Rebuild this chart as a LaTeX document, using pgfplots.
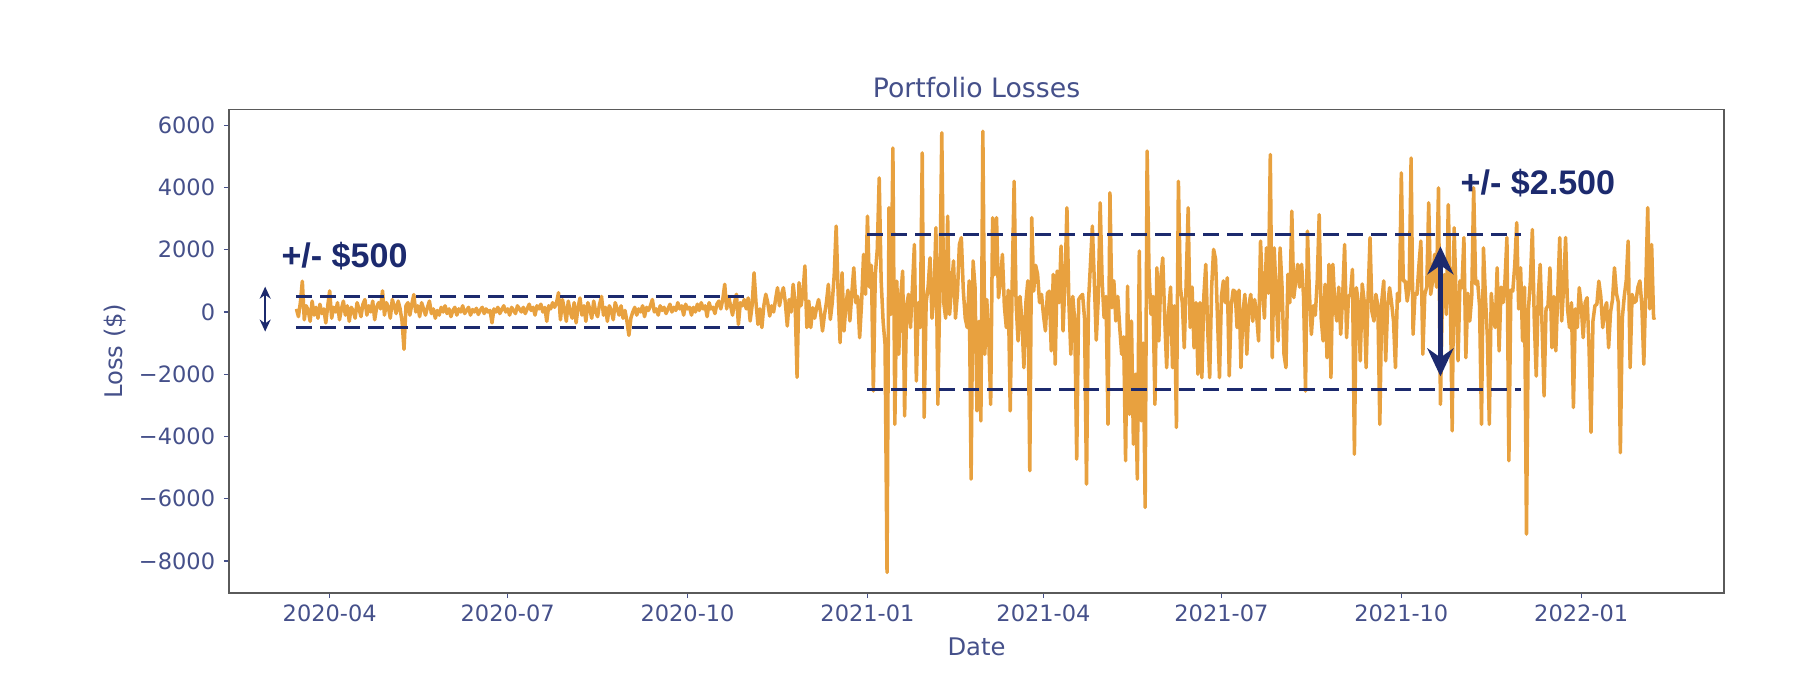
\documentclass[border=0pt]{standalone}
\usepackage{pgfplots}
\pgfplotsset{compat=1.18}
\usepackage{fontspec}
\setmainfont{DejaVu Sans}
\newfontfamily\annfont{Liberation Sans}
\usetikzlibrary{arrows.meta}
\definecolor{lossorange}{HTML}{E8A13F}
\definecolor{navyann}{HTML}{1C2A6E}
\definecolor{txtblue}{HTML}{45508A}
\definecolor{framegray}{HTML}{5A5A5A}
\begin{document}
\begin{tikzpicture}
\useasboundingbox (-22.9mm,-8.1mm) rectangle (157.7mm,59.3mm);
\begin{axis}[
  at={(0,0)}, anchor=south west,
  width=149.5mm, height=48.36mm, scale only axis,
  xmin=39.5, xmax=804, ymin=-9030, ymax=6510,
  axis line style={framegray, line width=0.5pt},
  xtick={91,182,274,366,456,547,639,731},
  xticklabels={2020-04,2020-07,2020-10,2021-01,2021-04,2021-07,2021-10,2022-01},
  ytick={-8000,-6000,-4000,-2000,0,2000,4000,6000},
  yticklabels={−8000,−6000,−4000,−2000,0,2000,4000,6000},
  tick align=outside, major tick length=0.5mm,
  tick style={txtblue, line width=0.4pt},
  xtick pos=bottom, ytick pos=left,
  ticklabel style={font=\fontsize{6.4}{7}\selectfont, text=txtblue},
  xticklabel style={yshift=0.55mm},
  yticklabel style={xshift=0.35mm},
  every axis title shift=0pt,
  title={Portfolio Losses},
  title style={font=\fontsize{7.6}{8}\selectfont, text=txtblue, at={(axis description cs:0.5,1)}, anchor=center, yshift=2.2mm},
  xlabel={Date},
  xlabel style={font=\fontsize{6.9}{8}\selectfont, text=txtblue, at={(axis description cs:0.5,0)}, anchor=center, yshift=-5.4mm},
  ylabel={Loss (\$)},
  ylabel style={font=\fontsize{6.9}{8}\selectfont, text=txtblue, at={(axis description cs:0,0.5)}, anchor=center, yshift=11.4mm},
  clip=false,
]
\addplot[lossorange, line width=1pt, line join=round] table[row sep=\\] {
x y\\
74 100\\ 75 -150\\ 76 300\\ 77 990\\ 78 -250\\ 79 200\\ 80 50\\ 81 -300\\ 82 350\\ 83 -100\\
84 150\\ 85 -200\\ 86 250\\ 87 -50\\ 88 100\\ 89 -350\\ 90 200\\ 91 680\\ 92 -200\\ 93 150\\
94 0\\ 95 300\\ 96 -250\\ 97 100\\ 98 350\\ 99 -100\\ 100 200\\ 101 -300\\ 102 150\\ 103 50\\
104 -200\\ 105 300\\ 106 100\\ 107 -150\\ 108 250\\ 109 400\\ 110 -100\\ 111 200\\ 112 0\\ 113 350\\
114 -250\\ 115 150\\ 116 300\\ 117 100\\ 118 680\\ 119 -100\\ 120 300\\ 121 150\\ 122 -200\\ 123 400\\
124 200\\ 125 -50\\ 126 350\\ 127 100\\ 128 -300\\ 129 -1200\\ 130 200\\ 131 300\\ 132 -100\\ 133 250\\
134 560\\ 135 0\\ 136 200\\ 137 -150\\ 138 300\\ 139 100\\ 140 -100\\ 141 150\\ 142 350\\ 143 -50\\
144 100\\ 145 -200\\ 146 50\\ 147 -100\\ 148 150\\ 149 0\\ 150 200\\ 151 -50\\ 152 100\\ 153 -150\\
154 50\\ 155 150\\ 156 -100\\ 157 100\\ 158 0\\ 159 200\\ 160 -50\\ 161 50\\ 162 150\\ 163 -100\\
164 80\\ 165 0\\ 166 120\\ 167 -80\\ 168 60\\ 169 150\\ 170 -50\\ 171 100\\ 172 0\\ 173 50\\
174 -350\\ 175 100\\ 176 0\\ 177 150\\ 178 -50\\ 179 80\\ 180 200\\ 181 0\\ 182 100\\ 183 -100\\
184 150\\ 185 50\\ 186 -50\\ 187 200\\ 188 100\\ 189 0\\ 190 150\\ 191 -50\\ 192 100\\ 193 250\\
194 50\\ 195 150\\ 196 -100\\ 197 200\\ 198 100\\ 199 250\\ 200 0\\ 201 150\\ 202 -300\\ 203 200\\
204 100\\ 205 300\\ 206 150\\ 207 300\\ 208 620\\ 209 -250\\ 210 400\\ 211 100\\ 212 -300\\ 213 350\\
214 0\\ 215 -200\\ 216 300\\ 217 -350\\ 218 150\\ 219 450\\ 220 -100\\ 221 200\\ 222 -300\\ 223 300\\
224 100\\ 225 -200\\ 226 350\\ 227 0\\ 228 -150\\ 229 250\\ 230 500\\ 231 -100\\ 232 150\\ 233 -300\\
234 200\\ 235 50\\ 236 -250\\ 237 300\\ 238 100\\ 239 -100\\ 240 200\\ 241 -200\\ 242 50\\ 243 -300\\
244 -750\\ 245 -200\\ 246 0\\ 247 150\\ 248 -100\\ 249 100\\ 250 0\\ 251 200\\ 252 -150\\ 253 150\\
254 50\\ 255 200\\ 256 400\\ 257 0\\ 258 100\\ 259 -100\\ 260 200\\ 261 50\\ 262 150\\ 263 -50\\
264 100\\ 265 250\\ 266 0\\ 267 150\\ 268 50\\ 269 300\\ 270 100\\ 271 200\\ 272 -100\\ 273 250\\
274 100\\ 275 150\\ 276 -100\\ 277 150\\ 278 0\\ 279 250\\ 280 50\\ 281 300\\ 282 100\\ 283 200\\
284 -150\\ 285 300\\ 286 100\\ 287 150\\ 288 -50\\ 289 250\\ 290 350\\ 291 100\\ 292 400\\ 293 890\\
294 100\\ 295 500\\ 296 200\\ 297 -100\\ 298 300\\ 299 570\\ 300 -400\\ 301 300\\ 302 200\\ 303 400\\
304 100\\ 305 450\\ 306 -290\\ 307 200\\ 308 1260\\ 309 300\\ 310 -400\\ 311 100\\ 312 -500\\ 313 200\\
314 570\\ 315 300\\ 316 -130\\ 317 200\\ 318 0\\ 319 400\\ 320 780\\ 321 200\\ 322 550\\ 323 780\\
324 300\\ 325 -450\\ 326 400\\ 327 0\\ 328 890\\ 329 300\\ 330 -2100\\ 331 940\\ 332 200\\ 333 600\\
334 1480\\ 335 -500\\ 336 350\\ 337 -500\\ 338 140\\ 339 -200\\ 340 140\\ 341 400\\ 342 0\\ 343 -610\\
344 -100\\ 345 300\\ 346 890\\ 347 -240\\ 348 300\\ 349 1200\\ 350 2760\\ 351 600\\ 352 -985\\ 353 1260\\
354 -610\\ 355 250\\ 356 700\\ 357 -290\\ 358 600\\ 359 1420\\ 360 300\\ 361 500\\ 362 -825\\ 363 300\\
364 1850\\ 365 570\\ 366 3080\\ 367 800\\ 368 1500\\ 369 -2540\\ 370 1200\\ 371 2000\\ 372 4310\\ 373 1000\\
374 -300\\ 375 -1040\\ 376 -8370\\ 377 3350\\ 378 -80\\ 379 5270\\ 380 -3610\\ 381 990\\ 382 -1360\\ 383 500\\
384 1315\\ 385 -3340\\ 386 200\\ 387 570\\ 388 -500\\ 389 800\\ 390 2170\\ 391 -2220\\ 392 300\\ 393 -500\\
394 5110\\ 395 -3390\\ 396 300\\ 397 800\\ 398 1740\\ 399 -200\\ 400 500\\ 401 2710\\ 402 -2970\\ 403 800\\
404 5760\\ 405 300\\ 406 -200\\ 407 3080\\ 408 -80\\ 409 800\\ 410 1640\\ 411 -200\\ 412 600\\ 413 2170\\
414 2390\\ 415 700\\ 416 -200\\ 417 -500\\ 418 1000\\ 419 -5370\\ 420 1640\\ 421 800\\ 422 -3180\\ 423 -300\\
424 -3500\\ 425 5810\\ 426 -1360\\ 427 400\\ 428 -800\\ 429 -2970\\ 430 3030\\ 431 1200\\ 432 3030\\ 433 460\\
434 1000\\ 435 1850\\ 436 200\\ 437 -500\\ 438 700\\ 439 -3180\\ 440 900\\ 441 4200\\ 442 300\\ 443 -930\\
444 500\\ 445 -300\\ 446 -1790\\ 447 300\\ 448 1000\\ 449 -5100\\ 450 3030\\ 451 670\\ 452 1500\\ 453 1210\\
454 300\\ 455 566\\ 456 -100\\ 457 -610\\ 458 600\\ 459 670\\ 460 -1250\\ 461 1210\\ 462 -1680\\ 463 1315\\
464 300\\ 465 2120\\ 466 -610\\ 467 1000\\ 468 3350\\ 469 300\\ 470 -1360\\ 471 500\\ 472 -290\\ 473 -4730\\
474 400\\ 475 500\\ 476 566\\ 477 -200\\ 478 -5530\\ 479 300\\ 480 1500\\ 481 2760\\ 482 1000\\ 483 -900\\
484 400\\ 485 3510\\ 486 1000\\ 487 -180\\ 488 500\\ 489 -3610\\ 490 3830\\ 491 140\\ 492 1000\\ 493 -290\\
494 500\\ 495 -500\\ 496 -1360\\ 497 -800\\ 498 -4780\\ 499 830\\ 500 -3290\\ 501 -290\\ 502 -4250\\ 503 -2000\\
504 -5370\\ 505 1960\\ 506 -3500\\ 507 -1000\\ 508 -6280\\ 509 5170\\ 510 1210\\ 511 -76\\ 512 500\\ 513 -2970\\
514 1420\\ 515 -930\\ 516 1100\\ 517 1740\\ 518 -200\\ 519 -1790\\ 520 31\\ 521 800\\ 522 -1790\\ 523 200\\
524 -3710\\ 525 4200\\ 526 800\\ 527 300\\ 528 -1150\\ 529 1000\\ 530 3350\\ 531 -500\\ 532 800\\ 533 -1150\\
534 300\\ 535 -2000\\ 536 300\\ 537 -2110\\ 538 500\\ 539 1530\\ 540 -600\\ 541 -2110\\ 542 800\\ 543 2010\\
544 1700\\ 545 -200\\ 546 -2110\\ 547 500\\ 548 1000\\ 549 300\\ 550 1100\\ 551 -2050\\ 552 200\\ 553 700\\
554 660\\ 555 -500\\ 556 700\\ 557 -1790\\ 558 0\\ 559 566\\ 560 -1360\\ 561 200\\ 562 566\\ 563 -300\\
564 400\\ 565 -100\\ 566 -930\\ 567 2280\\ 568 700\\ 569 -200\\ 570 2060\\ 571 600\\ 572 5060\\ 573 -1470\\
574 2060\\ 575 500\\ 576 -930\\ 577 2060\\ 578 800\\ 579 -1360\\ 580 -1790\\ 581 1210\\ 582 300\\ 583 3240\\
584 460\\ 585 1000\\ 586 1530\\ 587 800\\ 588 1530\\ 589 500\\ 590 -2540\\ 591 2600\\ 592 600\\ 593 -720\\
594 200\\ 595 -100\\ 596 1000\\ 597 3130\\ 598 -200\\ 599 -930\\ 600 890\\ 601 -1470\\ 602 1530\\ 603 -2110\\
604 1530\\ 605 200\\ 606 -290\\ 607 800\\ 608 -720\\ 609 500\\ 610 2170\\ 611 -825\\ 612 500\\ 613 566\\
614 1370\\ 615 -4570\\ 616 780\\ 617 300\\ 618 -1570\\ 619 900\\ 620 350\\ 621 -1790\\ 622 500\\ 623 2390\\
624 0\\ 625 -290\\ 626 566\\ 627 200\\ 628 -3610\\ 629 350\\ 630 1000\\ 631 -1570\\ 632 200\\ 633 780\\
634 300\\ 635 -290\\ 636 -1790\\ 637 600\\ 638 350\\ 639 4470\\ 640 1000\\ 641 990\\ 642 350\\ 643 800\\
644 4950\\ 645 -720\\ 646 600\\ 647 566\\ 648 1500\\ 649 2280\\ 650 -1360\\ 651 566\\ 652 800\\ 653 3510\\
654 566\\ 655 1000\\ 656 1850\\ 657 800\\ 658 3990\\ 659 -2970\\ 660 500\\ 661 1200\\ 662 -80\\ 663 3450\\
664 800\\ 665 -3820\\ 666 2710\\ 667 500\\ 668 -1570\\ 669 1000\\ 670 780\\ 671 2390\\ 672 -1470\\ 673 600\\
674 -290\\ 675 500\\ 676 3990\\ 677 900\\ 678 990\\ 679 200\\ 680 -3610\\ 681 2060\\ 682 500\\ 683 -800\\
684 -3610\\ 685 600\\ 686 -200\\ 687 -500\\ 688 1420\\ 689 -1250\\ 690 800\\ 691 300\\ 692 1000\\ 693 2390\\
694 -4780\\ 695 700\\ 696 673\\ 697 1500\\ 698 2870\\ 699 100\\ 700 1420\\ 701 -930\\ 702 800\\ 703 -7140\\
704 100\\ 705 1000\\ 706 2650\\ 707 -290\\ 708 -2060\\ 709 500\\ 710 1530\\ 711 -500\\ 712 -2700\\ 713 100\\
714 200\\ 715 1420\\ 716 -1150\\ 717 500\\ 718 -1250\\ 719 600\\ 720 2390\\ 721 -290\\ 722 800\\ 723 2390\\
724 100\\ 725 -500\\ 726 300\\ 727 -3070\\ 728 100\\ 729 -500\\ 730 780\\ 731 200\\ 732 -825\\ 733 300\\
734 460\\ 735 -1150\\ 736 -3870\\ 737 -290\\ 738 200\\ 739 250\\ 740 990\\ 741 500\\ 742 -500\\ 743 100\\
744 300\\ 745 -1150\\ 746 0\\ 747 400\\ 748 1420\\ 749 600\\ 750 300\\ 751 -4520\\ 752 -200\\ 753 500\\
754 1000\\ 755 2280\\ 756 -1790\\ 757 566\\ 758 300\\ 759 350\\ 760 800\\ 761 1000\\ 762 200\\ 763 -1680\\
764 800\\ 765 3350\\ 766 100\\ 767 2170\\ 768 -200\\ 769 -180\\
};
\addplot[navyann, line width=0.8pt, dash pattern=on 1.6mm off 0.8mm] coordinates {(74,500) (303,500)};
\addplot[navyann, line width=0.8pt, dash pattern=on 1.6mm off 0.8mm] coordinates {(74,-500) (303,-500)};
\addplot[navyann, line width=0.8pt, dash pattern=on 1.6mm off 0.8mm] coordinates {(366,2500) (700,2500)};
\addplot[navyann, line width=0.8pt, dash pattern=on 1.6mm off 0.8mm] coordinates {(366,-2500) (700,-2500)};
\draw[navyann, line width=0.5pt, {Stealth[length=1.2mm,width=1.1mm]}-{Stealth[length=1.2mm,width=1.1mm]}] (axis cs:58,813) -- (axis cs:58,-628);
\draw[navyann, line width=1.3pt, {Stealth[length=2.8mm,width=2.6mm]}-{Stealth[length=2.8mm,width=2.6mm]}] (axis cs:659,2110) -- (axis cs:659,-2070);
\node[anchor=west, inner sep=0pt, text=navyann, font=\annfont\bfseries\fontsize{9.7}{11}\selectfont] at (axis cs:66,1811) {+/- \$500};
\node[anchor=west, inner sep=0pt, text=navyann, font=\annfont\bfseries\fontsize{9.7}{11}\selectfont] at (axis cs:669,4140) {+/- \$2.500};
\end{axis}
\end{tikzpicture}
\end{document}
